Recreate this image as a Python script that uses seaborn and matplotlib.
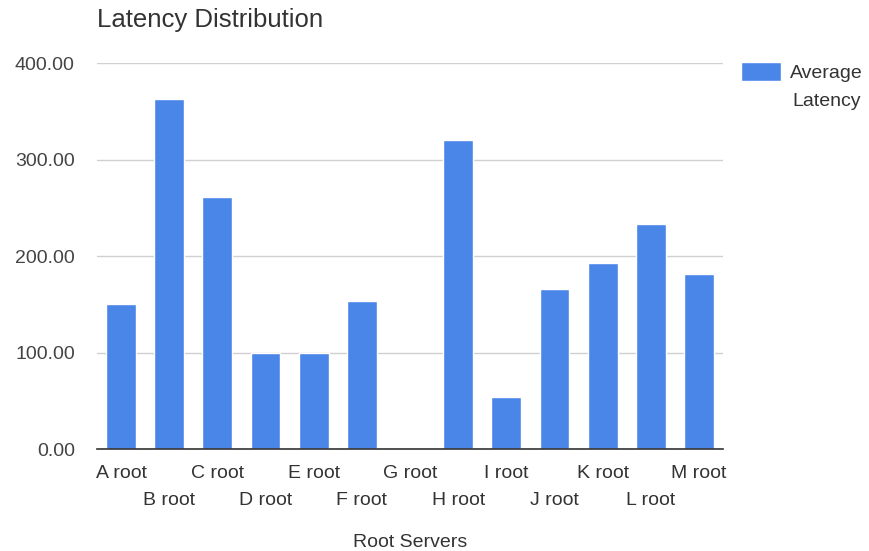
import seaborn as sns
import matplotlib.pyplot as plt
import pandas as pd

servers = ["A root", "B root", "C root", "D root", "E root", "F root", "G root",
           "H root", "I root", "J root", "K root", "L root", "M root"]
latency = [150, 363, 261, 100, 100, 154, 0, 320, 54, 166, 193, 233, 182]

BLUE = "#4a86e8"

sns.set_theme(style="white")
plt.rcParams['font.family'] = ['Liberation Sans', 'DejaVu Sans']

df = pd.DataFrame({"server": servers, "latency": latency})

f = plt.figure(figsize=(8.7, 5.51), dpi=100)
ax = f.add_axes([97/870, 1-449.3/551, (723-97)/870, (449.3-63)/551])

sns.barplot(data=df, x="server", y="latency", color=BLUE, width=0.62,
            saturation=1, ax=ax, label="Average")

ax.set_ylim(0, 400)
ax.set_xlim(-0.5, len(servers) - 0.5)
ax.set_yticks([0, 100, 200, 300, 400])
ax.set_yticklabels([f"{v:.2f}" for v in [0, 100, 200, 300, 400]])
ax.grid(True, axis='y', color='#d0d0d0', linewidth=1)
ax.set_axisbelow(True)
sns.despine(ax=ax, left=True, right=True, top=True)
ax.spines['bottom'].set_color('#333333')
ax.spines['bottom'].set_linewidth(1.2)

# staggered category labels: odd ones pushed down to a second row
ax.set_xticks(range(len(servers)))
ax.set_xticklabels(servers, fontsize=14, color='#333333')
ax.tick_params(axis='x', length=0, pad=11)
ax.tick_params(axis='y', length=0, pad=16, labelsize=14, labelcolor='#444444')
for i, tk in enumerate(ax.xaxis.get_major_ticks()):
    if i % 2 == 1:
        tk.set_pad(30.5)

ax.set_ylabel("")
ax.set_xlabel("Root Servers", fontsize=14, color='#333333', labelpad=18)

f.text(97/870, 1-27/551, "Latency Distribution", fontsize=18.5,
       color='#333333', va='baseline', ha='left')

leg = ax.legend(loc='upper left', bbox_to_anchor=(741/870, 1-62/551),
                bbox_transform=f.transFigure, frameon=False, fontsize=14,
                handlelength=2.05, handleheight=1.1, handletextpad=0.45,
                borderpad=0, borderaxespad=0)
for t in leg.get_texts():
    t.set_color('#333333')
f.text(792/870, 1-106/551, "Latency", fontsize=14, color='#333333',
       va='baseline', ha='left')

f.savefig("out.png", dpi=100)
